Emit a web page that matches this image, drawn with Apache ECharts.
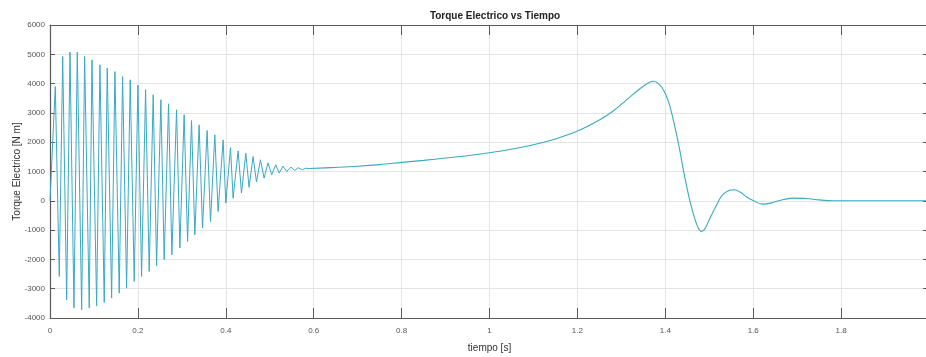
<!DOCTYPE html>
<html>
<head>
<meta charset="utf-8">
<title>Torque Electrico vs Tiempo</title>
<script src="https://cdn.jsdelivr.net/npm/echarts@6/dist/echarts.min.js"></script>
<style>
  html, body { margin: 0; padding: 0; background: #ffffff; }
  #chart { width: 926px; height: 357px; }
</style>
</head>
<body>
<div id="chart"></div>
<script>
// Start-up transient: successive crests and troughs of the torque oscillation
const oscTime = [
  0.000, 0.012, 0.0211, 0.0289, 0.0379, 0.0455, 0.0545, 0.0621, 0.0720, 0.0788,
  0.0893, 0.0955, 0.1061, 0.1136, 0.1234, 0.1302, 0.1402, 0.1477, 0.1575, 0.1652,
  0.1743, 0.1825, 0.1916, 0.2000, 0.2084, 0.2175, 0.2257, 0.2348, 0.2425, 0.2523,
  0.2598, 0.2698, 0.2773, 0.2880, 0.2955, 0.3052, 0.3130, 0.3220, 0.3295, 0.3393,
  0.3470, 0.3575, 0.3652, 0.3750, 0.3825, 0.3939, 0.4000, 0.4107, 0.4166, 0.4280,
  0.4357, 0.4455, 0.4530, 0.4621, 0.4698, 0.4788, 0.4871, 0.4961, 0.5045, 0.5136,
  0.5216, 0.5302, 0.5386, 0.5489, 0.5568, 0.5648, 0.5739, 0.5818, 0.5909
];
const oscTorque = [
  0, 3900, -2580, 4925, -3380, 5075, -3660, 5075, -3720, 4925,
  -3660, 4810, -3580, 4640, -3470, 4530, -3320, 4410, -3150, 4240,
  -2980, 4130, -2750, 3950, -2580, 3790, -2410, 3620, -2220, 3450,
  -2010, 3310, -1840, 3105, -1610, 2935, -1390, 2740, -1160, 2590,
  -930, 2400, -710, 2250, -365, 2080, -80, 1810, 90, 1700,
  265, 1620, 460, 1510, 640, 1400, 775, 1295, 890, 1230,
  945, 1185, 1000, 1155, 1035, 1130, 1060, 1110, 1100
];

// Acceleration, pull-out peak and settling after the oscillation dies out
const slowTime = [
  0.5909, 0.65, 0.70, 0.75, 0.80, 0.85, 0.90, 0.95, 1.00, 1.05,
  1.10, 1.15, 1.20, 1.25, 1.28, 1.31, 1.34, 1.36, 1.372, 1.385,
  1.398, 1.409, 1.420, 1.432, 1.443, 1.455, 1.466, 1.475, 1.482, 1.490,
  1.500, 1.515, 1.530, 1.545, 1.557, 1.570, 1.585, 1.600, 1.621, 1.640,
  1.660, 1.690, 1.720, 1.750, 1.780, 1.850, 2.000
];
const slowTorque = [
  1100, 1140, 1180, 1235, 1310, 1380, 1460, 1540, 1640, 1760,
  1910, 2110, 2380, 2760, 3050, 3420, 3800, 4010, 4080, 3990,
  3720, 3300, 2650, 1800, 900, 60, -560, -930, -1050, -960,
  -650, -195, 200, 350, 375, 300, 130, 10, -115, -80,
  10, 90, 80, 30, 0, 0, 0
];

// Axis ranges and tick steps
const timeMin = 0, timeMax = 2, timeStep = 0.2;
const torqueMin = -4000, torqueMax = 6000, torqueStep = 1000;

const pairs = (xs, ys) => xs.map((x, i) => [x, ys[i]]);

const lineColor = '#3aa9c2';
const axisColor = '#5a5a5a';
const gridColor = '#e4e4e4';
const labelFont = '"Liberation Sans Narrow", "Liberation Sans", Arial, sans-serif';

const chart = echarts.init(document.getElementById('chart'), null, { renderer: 'canvas' });

const fmtTime = v => String(+v.toFixed(1));
const fmtTorque = v => String(Math.round(v));

chart.setOption({
  animation: false,
  backgroundColor: '#ffffff',
  title: {
    text: 'Torque Electrico vs Tiempo',
    left: 490,
    top: 6,
    textAlign: 'center',
    textStyle: { fontFamily: labelFont, fontSize: 10, fontWeight: 'bold', color: '#222' }
  },
  grid: { left: 50, right: -3, top: 25, bottom: 39, containLabel: false, outerBoundsMode: 'none' },
  xAxis: [
    {
      type: 'value', min: timeMin, max: timeMax, interval: timeStep,
      name: 'tiempo [s]', nameLocation: 'middle', nameGap: 25,
      nameTextStyle: { fontFamily: labelFont, fontSize: 10, color: '#333' },
      axisLine: { onZero: false, lineStyle: { color: axisColor, width: 1.2 } },
      axisTick: { inside: true, length: 10, lineStyle: { color: axisColor } },
      axisLabel: { formatter: fmtTime, fontFamily: labelFont, fontSize: 8, color: '#555', margin: 9, showMaxLabel: true },
      splitLine: { show: true, lineStyle: { color: gridColor, width: 1 } }
    },
    {
      type: 'value', position: 'top', min: timeMin, max: timeMax, interval: timeStep,
      axisLine: { onZero: false, lineStyle: { color: axisColor, width: 1.2 } },
      axisTick: { inside: true, length: 10, lineStyle: { color: axisColor } },
      axisLabel: { show: false },
      splitLine: { show: false }
    }
  ],
  yAxis: [
    {
      type: 'value', min: torqueMin, max: torqueMax, interval: torqueStep,
      name: 'Torque Electrico [N m]', nameLocation: 'middle', nameGap: 28,
      nameMoveOverlap: false,
      nameTextStyle: { fontFamily: labelFont, fontSize: 10, color: '#333' },
      axisLine: { show: true, onZero: false, lineStyle: { color: axisColor, width: 1.2 } },
      axisTick: { show: true, inside: true, length: 5, lineStyle: { color: axisColor } },
      axisLabel: { formatter: fmtTorque, fontFamily: labelFont, fontSize: 8, color: '#555', margin: 5 },
      splitLine: { show: true, lineStyle: { color: gridColor, width: 1 } }
    },
    {
      type: 'value', position: 'right', min: torqueMin, max: torqueMax, interval: torqueStep,
      axisLine: { show: true, onZero: false, lineStyle: { color: axisColor, width: 1.2 } },
      axisTick: { show: true, inside: true, length: 6, lineStyle: { color: axisColor } },
      axisLabel: { show: false },
      splitLine: { show: false }
    }
  ],
  series: [
    {
      name: 'oscilacion', type: 'line', xAxisIndex: 0, yAxisIndex: 0,
      data: pairs(oscTime, oscTorque),
      showSymbol: false, smooth: false,
      lineStyle: { color: lineColor, width: 1 }
    },
    {
      name: 'torque', type: 'line', xAxisIndex: 0, yAxisIndex: 0,
      data: pairs(slowTime, slowTorque),
      showSymbol: false, smooth: 0.35,
      lineStyle: { color: lineColor, width: 1.1 }
    }
  ]
});
</script>
</body>
</html>
